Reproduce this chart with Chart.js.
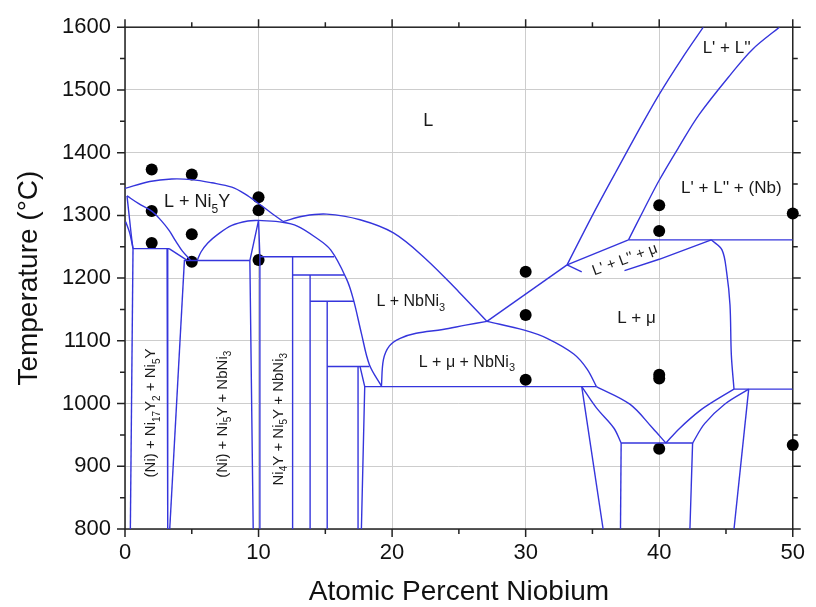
<!DOCTYPE html>
<html><head><meta charset="utf-8">
<script src="https://cdn.jsdelivr.net/npm/chart.js@4"></script>
<style>html,body{margin:0;padding:0;background:#fff}</style>
</head><body>
<canvas id="c" width="816" height="607"></canvas>
<script>
const FONT = '"Liberation Sans", Arial, Helvetica, sans-serif';
const LINE = '#3535dc';

// ---- axes ----
const xMin = 0, xMax = 50, yMin = 800, yMax = 1600;

// ---- experimental samples (at.% Nb, °C) ----
const sampleNb = [2, 2, 2, 5, 5, 5, 10, 10, 10, 30, 30, 30, 40, 40, 40, 40, 40, 50, 50];
const sampleT  = [1373, 1307, 1256, 1365, 1270, 1226, 1329, 1308, 1229, 1210, 1141, 1038, 1316, 1275, 1046, 1040, 928, 1303, 934];

// ---- phase boundaries [at.% Nb, °C] ----
const liqNi5Y     = [[0,1343],[1.85,1354],[3.5,1358],[5,1357],[6.5,1352],[8,1345],[9,1334],[10,1319],[11,1303],[11.8,1291]];
const lowerNi5Y   = [[0.15,1331],[1,1319],[2.05,1306],[2.7,1292],[3.3,1276],[3.8,1259],[4.3,1243],[4.9,1229]];
const niSolvusA   = [[0.15,1331],[0.35,1292],[0.5,1263],[0.6,1247]];
const niSolvusB   = [[0.05,1290],[0.35,1272],[0.6,1247]];
const niSolvus    = [[0.6,1247],[0.4,800]];
const iso1247     = [[0.6,1247],[3.3,1247]];
const wedge1247   = [[3.3,1247],[4.6,1229]];
const ni17Left    = [[3.15,1247],[3.2,800]];
const ni17Right   = [[4.45,1229],[3.35,800]];
const iso1228     = [[4.45,1228],[9.35,1228]];
const ni5yDomeL   = [[5.4,1228],[5.7,1242],[6.2,1256],[6.9,1269],[8.0,1284],[9.2,1291],[10,1292]];
const ni5yDomeR   = [[10,1292],[11.8,1289],[12.9,1283],[14.2,1266],[15.4,1245],[16.6,1198],[17.1,1166],[17.7,1112],[18.3,1062],[19.2,1028]];
const liqNbNi3    = [[11.8,1290],[13.4,1299],[15.1,1302],[17.6,1293],[20.1,1272],[22.5,1231],[25,1178],[27.1,1131]];
const ni5yLeft    = [[10,1292],[9.35,1228],[9.6,800]];
const ni5yRight   = [[10,1292],[10.1,1234],[10.1,800]];
const iso1234     = [[10.1,1234],[15.65,1234]];
const ni4yLine    = [[12.55,1234],[12.55,800]];
const iso1205     = [[12.55,1205],[16.4,1205]];
const phaseB      = [[13.86,1205],[13.86,800]];
const iso1163     = [[13.86,1163],[17.15,1163]];
const phaseC      = [[15.14,1163],[15.14,800]];
const iso1059     = [[15.14,1059],[18.3,1059]];
const nbni3Left   = [[17.45,1059],[17.45,800]];
const nbni3Right  = [[17.6,1059],[17.95,1027],[17.7,800]];
const iso1027     = [[17.95,1027],[35.3,1027]];
const domeMuL     = [[19.2,1027],[19.35,1070],[19.8,1092],[20.6,1104],[21.8,1112],[23.8,1118],[25.5,1125],[27.1,1131]];
const domeMuR     = [[27.1,1131],[29.9,1117],[31.6,1104],[33.6,1079],[34.6,1055],[35.3,1027]];
const liqToMono   = [[27.1,1131],[33.1,1221]];
const lPrime      = [[33.1,1221],[35,1300],[36.8,1371],[38.5,1437],[40,1493],[41.7,1550],[43.3,1600]];
const lDouble     = [[37.7,1261],[38.8,1307],[40,1356],[41.5,1410],[43,1461],[45.4,1526],[47,1565],[49,1600]];
const monoLine    = [[33.1,1221],[37.7,1261]];
const monoTick    = [[33.1,1221],[34.2,1210]];
const iso1261     = [[37.7,1261],[50,1261]];
const l3muLower   = [[37.4,1212],[40,1230],[43.9,1261]];
const muLiquidus  = [[43.9,1261],[44.7,1245],[45.05,1209],[45.3,1157],[45.4,1078],[45.6,1023]];
const iso1023     = [[45.6,1023],[50,1023]];
const lowA        = [[34.2,1027],[35.8,800]];
const lowB        = [[34.2,1027],[35.3,993],[36.6,961],[37.15,937]];
const lowC        = [[35.3,1027],[37.8,999],[39.5,961],[40.5,937]];
const iso937      = [[37.15,937],[42.5,937]];
const lowD        = [[40.5,937],[41.5,960],[43,988],[44.5,1009],[45.6,1023]];
const lowE        = [[42.5,937],[43.4,968],[44.9,999],[46.7,1023]];
const lowF        = [[46.7,1023],[45.6,800]];
const low37       = [[37.15,937],[37.1,800]];
const low42       = [[42.5,937],[42.3,800]];

const curved = [liqNi5Y, lowerNi5Y, niSolvusA, niSolvusB, ni5yDomeL, ni5yDomeR, liqNbNi3, domeMuL, domeMuR,
  lPrime, lDouble, muLiquidus, lowB, lowC, lowD, lowE];
const straight = [niSolvus, iso1247, wedge1247, ni17Left, ni17Right, iso1228, ni5yLeft, ni5yRight, iso1234, ni4yLine,
  iso1205, phaseB, iso1163, phaseC, iso1059, nbni3Left, nbni3Right, iso1027, liqToMono, monoLine, monoTick, iso1261,
  l3muLower, iso1023, lowA, iso937, lowF, low37, low42];

// ---- region labels (text, at.% Nb, °C, rotation deg, size) ----
const regionLabels = [
  ['L', 22.7, 1453, 0, 18],
  ['L + Ni_5Y', 5.4, 1323, 0, 18],
  ["L' + L''", 45.05, 1568, 0, 17],
  ["L' + L'' + (Nb)", 45.4, 1346, 0, 17],
  ["L' + L'' + \u03bc", 37.4, 1231, -20, 15],
  ['L + \u03bc', 38.3, 1138, 0, 17],
  ['L + NbNi_3', 21.4, 1165, 0, 16],
  ['L + \u03bc + NbNi_3', 25.6, 1068, 0, 16],
  ['(Ni) + Ni_{17}Y_2 + Ni_5Y', 1.85, 985, -90, 15],
  ['(Ni) + Ni_5Y + NbNi_3', 7.2, 983, -90, 15],
  ['Ni_4Y + Ni_5Y + NbNi_3', 11.4, 975, -90, 15]
];

function toXY(arr){ return arr.map(p => ({x:p[0], y:p[1]})); }

const datasets = [];
curved.forEach(a => datasets.push({type:'scatter', data:toXY(a), showLine:true, borderColor:LINE, borderWidth:1.4,
  pointRadius:0, tension:0.35, fill:false}));
straight.forEach(a => datasets.push({type:'scatter', data:toXY(a), showLine:true, borderColor:LINE, borderWidth:1.4,
  pointRadius:0, tension:0, fill:false}));
datasets.push({type:'scatter', data:sampleNb.map((x,i)=>({x:x, y:sampleT[i]})), pointRadius:6, pointHoverRadius:6,
  backgroundColor:'#000', borderColor:'#000', borderWidth:0, clip:false});

function parseRich(s){
  const segs=[]; let i=0, cur='';
  while(i<s.length){
    if(s[i]==='_'){
      if(cur){segs.push({t:cur,sub:false}); cur='';}
      if(s[i+1]==='{'){ const j=s.indexOf('}',i); segs.push({t:s.slice(i+2,j),sub:true}); i=j+1; }
      else { segs.push({t:s[i+1],sub:true}); i+=2; }
    } else { cur+=s[i]; i++; }
  }
  if(cur) segs.push({t:cur,sub:false});
  return segs;
}
function drawRich(ctx,s,x,y,rot,size){
  const segs=parseRich(s);
  const main=size+'px '+FONT, sub=Math.round(size*0.68)+'px '+FONT;
  let w=0;
  segs.forEach(g=>{ctx.font=g.sub?sub:main; g.w=ctx.measureText(g.t).width; w+=g.w;});
  ctx.save(); ctx.translate(x,y); ctx.rotate(rot*Math.PI/180);
  ctx.textBaseline='alphabetic'; ctx.textAlign='left'; ctx.fillStyle='#1a1a1a';
  let cx=-w/2; const base=size*0.36;
  segs.forEach(g=>{ctx.font=g.sub?sub:main; ctx.fillText(g.t,cx,base+(g.sub?size*0.3:0)); cx+=g.w;});
  ctx.restore();
}

const framePlugin = {
  id:'frame',
  beforeDatasetsDraw(chart){
    const {ctx, chartArea:a, scales:{x,y}} = chart;
    ctx.save();
    ctx.strokeStyle='#222'; ctx.lineWidth=1.5;
    ctx.strokeRect(a.left, a.top, a.right-a.left, a.bottom-a.top);
    ctx.beginPath();
    for(let v=xMin; v<=xMax; v+=5){
      const px=x.getPixelForValue(v), L=(v%10===0)?8:5;
      ctx.moveTo(px,a.bottom); ctx.lineTo(px,a.bottom+L);
      ctx.moveTo(px,a.top); ctx.lineTo(px,a.top-L);
    }
    for(let v=yMin; v<=yMax; v+=50){
      const py=y.getPixelForValue(v), L=(v%100===0)?8:5;
      ctx.moveTo(a.left,py); ctx.lineTo(a.left-L,py);
      ctx.moveTo(a.right,py); ctx.lineTo(a.right+L,py);
    }
    ctx.stroke();
    ctx.restore();
  },
  afterDatasetsDraw(chart){
    const {ctx, scales:{x,y}} = chart;
    regionLabels.forEach(l => drawRich(ctx, l[0], x.getPixelForValue(l[1]), y.getPixelForValue(l[2]), l[3], l[4]));
  }
};

new Chart(document.getElementById('c'), {
  data:{datasets},
  options:{
    responsive:false, animation:false, devicePixelRatio:1,
    layout:{padding:{top:22, right:14, left:0, bottom:0}},
    plugins:{legend:{display:false}, tooltip:{enabled:false}},
    scales:{
      x:{type:'linear', min:xMin, max:xMax,
        afterFit(s){ s.height=78; },
        border:{display:false},
        grid:{drawTicks:false, color:c => (c.tick && c.tick.value%10===0) ? '#cdcdcd' : 'rgba(0,0,0,0)', lineWidth:1},
        ticks:{stepSize:5, autoSkip:false, maxRotation:0, padding:11, color:'#111',
          font:{family:FONT, size:22}, callback:v => (v%10===0 ? String(v) : '')},
        title:{display:true, text:'Atomic Percent Niobium', color:'#111', font:{family:FONT, size:28, lineHeight:1}, padding:{top:0,bottom:1}}
      },
      y:{type:'linear', min:yMin, max:yMax,
        afterFit(s){ s.width=125; },
        border:{display:false},
        grid:{drawTicks:false, color:c => (c.tick && c.tick.value%100===0) ? '#cdcdcd' : 'rgba(0,0,0,0)', lineWidth:1},
        ticks:{stepSize:50, autoSkip:false, padding:14, color:'#111',
          font:{family:FONT, size:22}, callback:v => (v%100===0 ? String(v) : '')},
        title:{display:true, text:'Temperature (\u00b0C)', color:'#111', font:{family:FONT, size:28, lineHeight:1}, padding:{top:15,bottom:0}}
      }
    }
  },
  plugins:[framePlugin]
});
</script>
</body></html>
